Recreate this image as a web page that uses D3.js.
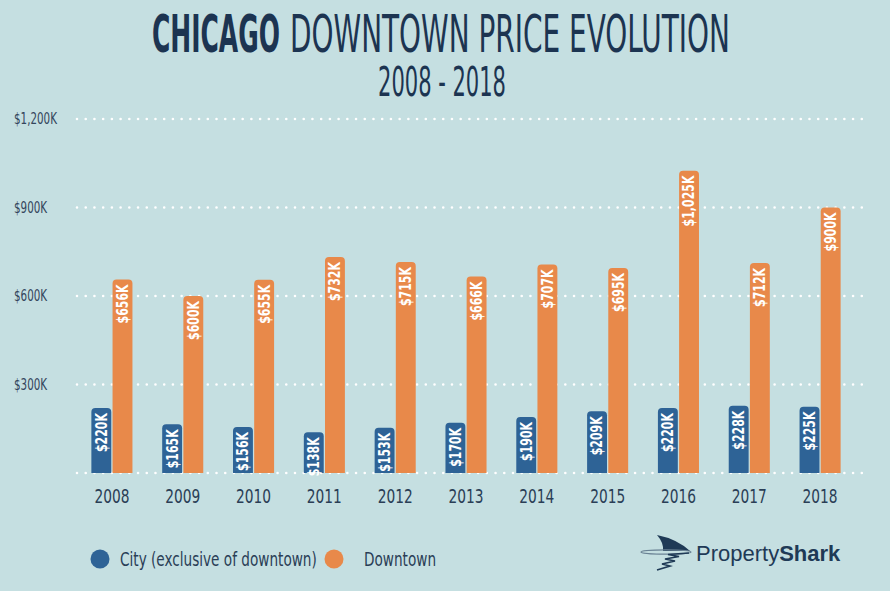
<!DOCTYPE html>
<html>
<head>
<meta charset="utf-8">
<script src="https://cdn.jsdelivr.net/npm/d3@7"></script>
<style>
  html, body { margin: 0; padding: 0; background: #c5dfe1; }
  svg { display: block; }
</style>
</head>
<body>
<svg id="chart" width="890" height="591"></svg>
<script>
const years = ["2008","2009","2010","2011","2012","2013","2014","2015","2016","2017","2018"];
const cityValues = [220,165,156,138,153,170,190,209,220,228,225];
const downtownValues = [656,600,655,732,715,666,707,695,1025,712,900];
const tickValues = [0,300,600,900,1200];
const tickLabels = ["", "$300K", "$600K", "$900K", "$1,200K"];
const seriesNames = ["City (exclusive of downtown)", "Downtown"];
const colors = ["#2e6396", "#e8894a"];

const FONT = "'DejaVu Sans Condensed','Liberation Sans Narrow',sans-serif";
const svg = d3.select("#chart");
const W = 890, H = 591;
svg.append("rect").attr("width", W).attr("height", H).attr("fill", "#c5dfe1");

// measure natural width of a string in a given style
const measurer = svg.append("text").attr("x", -1000).attr("y", -1000).attr("font-family", FONT);
function measure(str, size, weight) {
  measurer.attr("font-size", size).attr("font-weight", weight || "normal").text(str);
  return measurer.node().getComputedTextLength();
}

// Title (condensed by horizontal scaling)
const navy = "#1c3451";
function scaledText(str, x, yb, size, weight, target, anchor) {
  const f = target / measure(str, size, weight);
  return svg.append("text").attr("transform", `translate(${x},${yb}) scale(${f},1)`)
    .attr("fill", navy).attr("font-family", FONT).attr("font-weight", weight)
    .attr("font-size", size).attr("text-anchor", anchor || "start").text(str);
}
scaledText("CHICAGO", 152, 52, 51, "bold", 128);
scaledText("DOWNTOWN PRICE EVOLUTION", 290, 52, 51, "normal", 440);
scaledText("2008 - 2018", 378, 96, 40, "normal", 128);

// Scales
const y = d3.scaleLinear().domain([0, 1200]).range([473, 119]);
const x0 = d3.scaleBand().domain(years).range([76.5, 855.5]).paddingInner(0.42).paddingOuter(0.21);
const x1 = d3.scaleBand().domain([0, 1]).range([0, x0.bandwidth()]).paddingInner(0.06);

// Grid lines (dotted)
const grid = svg.append("g");
grid.selectAll("line").data(tickValues).join("line")
  .attr("x1", 77).attr("x2", 862)
  .attr("y1", d => y(d)).attr("y2", d => y(d))
  .attr("stroke", "#ffffff").attr("stroke-width", 2.6)
  .attr("stroke-linecap", "round").attr("stroke-dasharray", "0 8.72");

// Y axis labels
const ySize = 15;
const yF = 43 / measure("$1,200K", ySize);
const yAxis = d3.axisLeft(y).tickValues(tickValues).tickSize(0)
  .tickFormat((d, i) => tickLabels[i]);
const ya = svg.append("g").attr("transform", "translate(14,0)").call(yAxis);
ya.select(".domain").remove();
ya.selectAll("text").attr("x", 0).attr("text-anchor", "start")
  .attr("transform", `scale(${yF},1)`)
  .attr("font-family", FONT).attr("font-size", ySize).attr("fill", "#34465c");

// X axis labels
const xSize = 20;
const xF = 35 / measure("2008", xSize);
const xAxis = d3.axisBottom(x0).tickSize(0);
const xa = svg.append("g").attr("transform", "translate(0,488)").call(xAxis);
xa.select(".domain").remove();
xa.selectAll("text").attr("dy", "0.74em").attr("y", 0).attr("x", 0)
  .attr("transform", `scale(${xF},1)`)
  .attr("font-family", FONT).attr("font-size", xSize).attr("fill", "#2a3e56");

function topRounded(x, yTop, w, h, r) {
  r = Math.min(r, h / 2, w / 2);
  return `M${x},${yTop + h} L${x},${yTop + r} Q${x},${yTop} ${x + r},${yTop} L${x + w - r},${yTop} Q${x + w},${yTop} ${x + w},${yTop + r} L${x + w},${yTop + h} Z`;
}

const series = [cityValues, downtownValues];
const barData = [];
years.forEach((yr, i) => {
  series.forEach((vals, s) => barData.push({ year: yr, s, v: vals[i] }));
});

const fmt = v => "$" + d3.format(",")(v) + "K";

const bars = svg.append("g");
bars.selectAll("path").data(barData).join("path")
  .attr("d", d => {
    const bx = x0(d.year) + x1(d.s);
    const top = y(d.v);
    return topRounded(bx, top, x1.bandwidth(), y(0) - top, 4);
  })
  .attr("fill", d => colors[d.s]);

const bSize = 15;
const bF = 39 / measure("$656K", bSize, "bold");
bars.selectAll("text").data(barData).join("text")
  .attr("transform", d => {
    const cx = x0(d.year) + x1(d.s) + x1.bandwidth() / 2;
    return `translate(${cx},${y(d.v) + 5}) rotate(-90) scale(${bF},1)`;
  })
  .attr("text-anchor", "end").attr("dy", "0.36em")
  .attr("font-family", FONT).attr("font-weight", "bold").attr("font-size", bSize)
  .attr("fill", "#ffffff").text(d => fmt(d.v));

// Legend
const lSize = 19;
const lF = 197 / measure(seriesNames[0], lSize);
const legend = svg.append("g");
const legendItems = [{ x: 100, tx: 120 }, { x: 334, tx: 364 }];
legendItems.forEach((it, i) => {
  legend.append("circle").attr("cx", it.x).attr("cy", 559).attr("r", 9.5).attr("fill", colors[i]);
  legend.append("text").attr("transform", `translate(${it.tx},566) scale(${lF},1)`)
    .attr("font-family", FONT).attr("font-size", lSize).attr("fill", "#2a3e56").text(seriesNames[i]);
});

// Logo
const logo = svg.append("g");
const logoColor = "#1f3a56";
logo.append("path").attr("d", "M657,535 Q677,539 690,551 L663,551 Q664,543 657,535 Z").attr("fill", logoColor);
logo.append("ellipse").attr("cx", 666).attr("cy", 552).attr("rx", 25).attr("ry", 2.2)
  .attr("fill", "none").attr("stroke", "#6a8294").attr("stroke-width", 1.2);
logo.append("path").attr("d", "M689,553 L668,554.5 L679,556.5 L665,559 L675,561 L662,564 L670,566 L657,570")
  .attr("fill", "none").attr("stroke", logoColor).attr("stroke-width", 1.6);
const lt = logo.append("text").attr("x", 696).attr("y", 561).attr("font-family", "'Liberation Sans',Arial,sans-serif")
  .attr("font-size", 22).attr("fill", logoColor);
lt.append("tspan").text("Property");
lt.append("tspan").attr("font-weight", "bold").text("Shark");

measurer.remove();
</script>
</body>
</html>
